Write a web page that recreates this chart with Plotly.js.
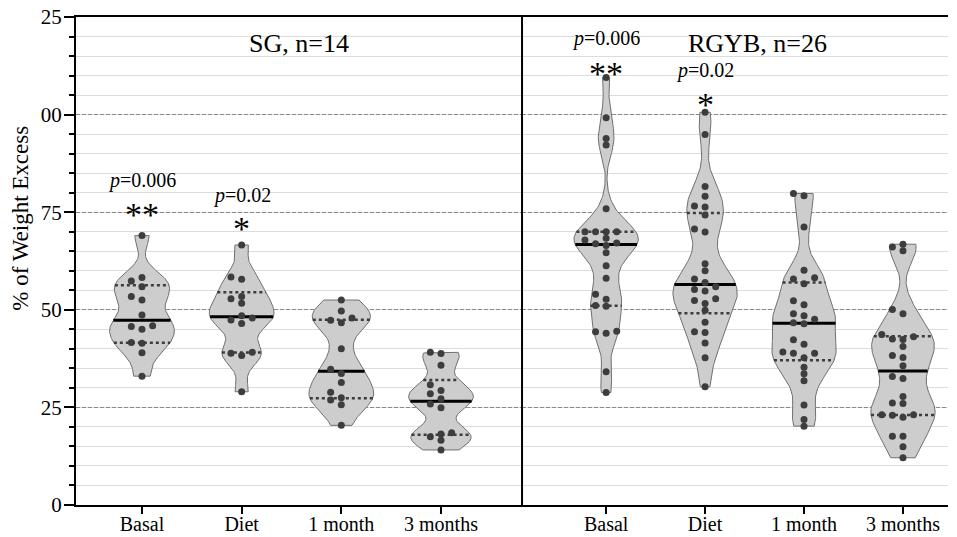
<!DOCTYPE html>
<html><head><meta charset="utf-8">
<script src="https://cdn.plot.ly/plotly-3.0.1.min.js"></script>
<style>html,body{margin:0;padding:0;background:#fff}#chart{width:957px;height:537px}</style>
</head><body><div id="chart"></div>
<script>
// ---- data ----
const categories = ["Basal", "Diet", "1 month", "3 months"];
const panelTitles = ["SG, n=14", "RGYB, n=26"];
const yTickVals = [0, 25, 50, 75, 100, 125];
const yTickText = ["0", "25", "50", "75", "00", "25"];
const sgBasal = [69.0,58.3,57.4,55.9,53.4,52.5,48.7,45.9,45.7,45.0,41.6,41.4,39.0,33.0];
const sgDiet  = [66.6,58.4,57.8,53.4,52.8,51.7,48.5,47.9,47.4,46.5,39.1,38.9,38.3,29.0];
const sg1m    = [52.5,49.7,47.9,47.3,46.7,40.0,34.8,33.7,31.4,28.9,27.5,26.9,25.7,20.4];
const sg3m    = [39.1,38.8,35.8,30.8,29.3,28.5,27.2,25.9,24.9,18.5,18.2,17.5,16.6,14.1];
const rgybBasal = [109.5,99.2,93.9,92.2,75.9,70.0,70.0,70.0,70.0,68.3,67.9,67.1,66.9,66.5,64.6,61.3,58.1,54.0,52.7,51.1,50.9,44.5,44.4,44.0,34.1,28.8];
const rgybDiet  = [100.6,94.9,81.6,79.1,76.6,76.3,74.3,70.7,69.9,61.8,60.0,57.9,57.0,55.9,55.2,54.8,52.8,52.4,51.6,49.9,46.8,44.4,44.2,41.5,37.7,30.3];
const rgyb1m    = [79.8,79.2,71.2,60.1,58.2,57.9,56.7,52.3,51.3,49.0,48.5,47.6,46.7,46.4,42.3,41.2,39.2,38.9,38.9,37.7,35.3,33.6,31.8,25.6,21.9,20.2];
const rgyb3m    = [66.8,66.1,65.1,50.1,49.0,43.7,43.1,42.5,42.4,40.6,38.3,37.8,35.7,32.9,32.4,27.8,26.1,26.0,23.1,23.1,23.0,22.5,17.6,17.6,14.9,12.1];
const pLabels = ["<i>p</i>=0.006", "<i>p</i>=0.02"];
const starLabels = ["**", "*"];

// ---- style ----
const FONT = "Liberation Serif, Times New Roman, serif";
const HALF_W = 0.325;      // max half width of a violin (category units)
const BW_FACTOR = 0.5;     // KDE smoothing relative to Silverman
const DOT_STEP = 0.107;    // beeswarm column spacing (category units)
const DOT_GAP = 1.55;      // min vertical gap in same column (data units)

function quantile(sorted, p) {
  const n = sorted.length, pos = (n + 1) * p;
  const i = Math.floor(pos), f = pos - i;
  if (i < 1) return sorted[0];
  if (i >= n) return sorted[n - 1];
  return sorted[i - 1] + f * (sorted[i] - sorted[i - 1]);
}
function stats(vals) {
  const s = vals.slice().sort((a, b) => a - b);
  const n = s.length, mean = s.reduce((a, b) => a + b, 0) / n;
  const sd = Math.sqrt(s.reduce((a, b) => a + (b - mean) ** 2, 0) / (n - 1));
  const q1 = quantile(s, 0.25), q2 = quantile(s, 0.5), q3 = quantile(s, 0.75);
  const bw = BW_FACTOR * 1.059 * Math.min(sd, (q3 - q1) / 1.349) * Math.pow(n, -0.2);
  return {s, q1, q2, q3, bw, min: s[0], max: s[n - 1]};
}
function kde(s, bw, y) {
  let t = 0;
  for (const v of s) { const z = (y - v) / bw; t += Math.exp(-0.5 * z * z); }
  return t;
}

const groups = [
  {axis: "x", vals: [sgBasal, sgDiet, sg1m, sg3m]},
  {axis: "x2", vals: [rgybBasal, rgybDiet, rgyb1m, rgyb3m]}
];
const traces = [];
const lineTraces = [];
const dotTraces = [];
groups.forEach(g => {
  g.vals.forEach((vals, ci) => {
    const st = stats(vals);
    const N = 160, ys = [];
    for (let k = 0; k <= N; k++) ys.push(st.min + (st.max - st.min) * k / N);
    const d = ys.map(y => kde(st.s, st.bw, y));
    const dmax = Math.max(...d);
    const wAt = y => HALF_W * kde(st.s, st.bw, y) / dmax;
    const px = [], py = [];
    ys.forEach((y, k) => { px.push(ci + HALF_W * d[k] / dmax); py.push(y); });
    for (let k = N; k >= 0; k--) { px.push(ci - HALF_W * d[k] / dmax); py.push(ys[k]); }
    px.push(px[0]); py.push(py[0]);
    traces.push({type: "scatter", mode: "lines", x: px, y: py, xaxis: g.axis, yaxis: "y",
      fill: "toself", fillcolor: "#cdcdcd", line: {color: "#707070", width: 1}, hoverinfo: "skip"});
    [[st.q2, "solid", 3, "#000000"], [st.q1, "dot", 2.5, "#3c3c3c"], [st.q3, "dot", 2.5, "#3c3c3c"]].forEach(([q, dash, w, c]) => {
      const hw = wAt(q);
      lineTraces.push({type: "scatter", mode: "lines", x: [ci - hw, ci + hw], y: [q, q], xaxis: g.axis, yaxis: "y",
        line: {color: c, width: w, dash: dash}, hoverinfo: "skip"});
    });
    const placed = [], dx = [], dy = [];
    const order = [0, -1, 1, -2, 2, -3, 3];
    st.s.forEach(v => {
      for (const col of order) {
        if (!placed.some(p => p.col === col && Math.abs(p.v - v) < DOT_GAP)) {
          placed.push({col, v}); dx.push(ci + col * DOT_STEP); dy.push(v); break;
        }
      }
    });
    dotTraces.push({type: "scatter", mode: "markers", x: dx, y: dy, xaxis: g.axis, yaxis: "y",
      marker: {size: 7, color: "#3d3d3d"}, hoverinfo: "skip"});
  });
});

const tickFont = {family: FONT, size: 20, color: "#000"};
const xBase = {
  tickmode: "array", tickvals: [0, 1, 2, 3], ticktext: categories,
  showline: true, linecolor: "#000", linewidth: 2, mirror: true,
  ticks: "outside", ticklen: 7, tickwidth: 2, tickcolor: "#000", ticklabelstandoff: -7,
  showgrid: false, zeroline: false, tickfont: tickFont, fixedrange: true
};
const split = 0.5115;
const layout = {
  width: 957, height: 537,
  margin: {l: 76, r: 9, t: 17, b: 32},
  paper_bgcolor: "#fff", plot_bgcolor: "#fff",
  showlegend: false, hovermode: false,
  xaxis: Object.assign({}, xBase, {domain: [0, split], range: [-0.662, 3.813], anchor: "y"}),
  xaxis2: Object.assign({}, xBase, {domain: [split, 1], range: [-0.85, 3.455], anchor: "y"}),
  yaxis: {
    range: [0, 125], tickmode: "array", tickvals: yTickVals, ticktext: yTickText,
    showline: true, linecolor: "#000", linewidth: 2,
    ticks: "outside", ticklen: 10, tickwidth: 2, tickcolor: "#000", ticklabelstandoff: -2,
    showgrid: true, gridcolor: "#8a8a8a", gridwidth: 1, griddash: "4px,2px",
    zeroline: false, tickfont: {family: FONT, size: 21, color: "#000"}, fixedrange: true,
    minor: {dtick: 5, tick0: 0, ticks: "outside", ticklen: 5, tickwidth: 2, tickcolor: "#000",
            showgrid: true, gridcolor: "#dcdcdc", gridwidth: 1, griddash: "solid"}
  },
  shapes: [{type: "line", xref: "paper", yref: "paper", x0: split, x1: split, y0: 0, y1: 1,
            line: {color: "#000", width: 2}}],
  annotations: [
    {text: "% of Weight Excess", xref: "paper", yref: "paper", x: -0.064, y: 0.587, textangle: -90,
     showarrow: false, font: {family: FONT, size: 23, color: "#000"}, xanchor: "center", yanchor: "middle"},
    {text: panelTitles[0], xref: "x", yref: "y", x: 1.58, y: 118.1, showarrow: false,
     font: {family: FONT, size: 26, color: "#000"}},
    {text: panelTitles[1], xref: "x2", yref: "y", x: 1.53, y: 118.1, showarrow: false,
     font: {family: FONT, size: 26, color: "#000"}},
    {text: pLabels[0], xref: "x", yref: "y", x: 0, y: 83.0, showarrow: false, font: {family: FONT, size: 20, color: "#000"}},
    {text: starLabels[0], xref: "x", yref: "y", x: 0, y: 74.5, showarrow: false, font: {family: FONT, size: 34, color: "#000"}},
    {text: pLabels[1], xref: "x", yref: "y", x: 1, y: 79.4, showarrow: false, font: {family: FONT, size: 20, color: "#000"}},
    {text: starLabels[1], xref: "x", yref: "y", x: 1, y: 70.7, showarrow: false, font: {family: FONT, size: 34, color: "#000"}},
    {text: pLabels[0], xref: "x2", yref: "y", x: 0, y: 119.6, showarrow: false, font: {family: FONT, size: 20, color: "#000"}},
    {text: starLabels[0], xref: "x2", yref: "y", x: 0, y: 110.6, showarrow: false, font: {family: FONT, size: 34, color: "#000"}},
    {text: pLabels[1], xref: "x2", yref: "y", x: 1, y: 111.4, showarrow: false, font: {family: FONT, size: 20, color: "#000"}},
    {text: starLabels[1], xref: "x2", yref: "y", x: 1, y: 102.7, showarrow: false, font: {family: FONT, size: 34, color: "#000"}}
  ]
};
Plotly.newPlot("chart", traces.concat(lineTraces, dotTraces), layout, {staticPlot: true, displayModeBar: false});
</script>
</body></html>
